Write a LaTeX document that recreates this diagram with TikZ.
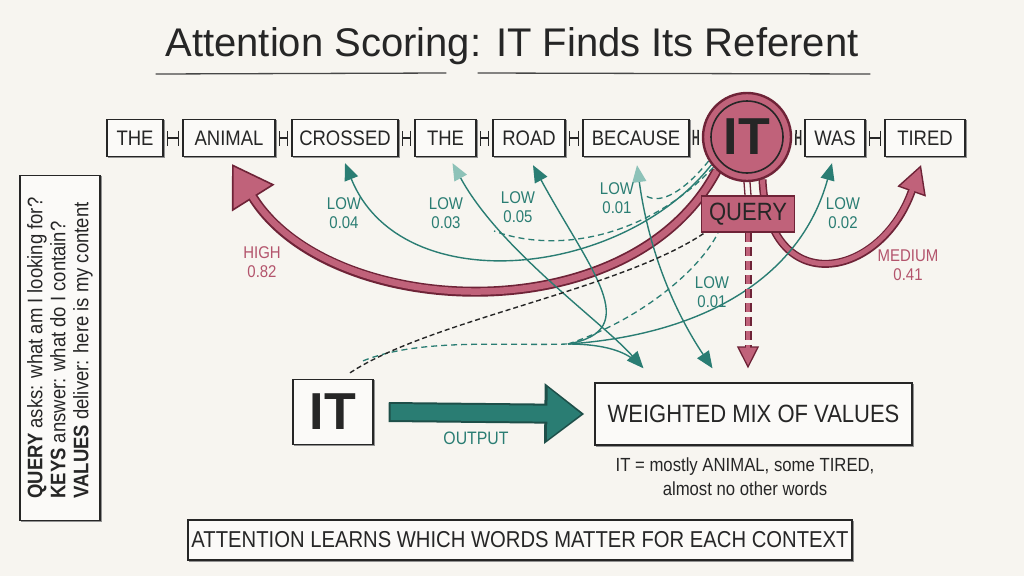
\documentclass[tikz,border=0pt]{standalone}
\usepackage{fontspec}
\setmainfont{Liberation Sans}
\newfontfamily\cond[FakeStretch=0.88]{Liberation Sans}
\usetikzlibrary{arrows.meta,calc}
\definecolor{paper}{HTML}{F7F5F0}
\definecolor{ink}{HTML}{262626}
\definecolor{pinkfill}{HTML}{C0627A}
\definecolor{pinkdark}{HTML}{6E2337}
\definecolor{pinktext}{HTML}{B3546C}
\definecolor{tealc}{HTML}{2A7D73}
\definecolor{tealdark}{HTML}{1E4F49}
\definecolor{teallight}{HTML}{8DC2B8}
\pgfdeclarelayer{back}
\pgfdeclarelayer{curves}
\pgfsetlayers{back,curves,main}
\begin{document}
\begin{tikzpicture}[x=1pt,y=-1pt,
  sketch/.style={draw=ink, line width=1.3pt, fill=paper!50!white,
    preaction={draw=ink!50, line width=0.7pt, transform canvas={shift={(1.5pt,-1.2pt)}}}},
  word/.style={sketch, minimum height=37pt, inner sep=0pt, font=\cond\fontsize{21}{24}\selectfont, text=ink},
  link/.style={draw=ink, line width=2pt, {Bar[width=15pt 0 0,line width=1.5pt 0 0]}-{Bar[width=15pt 0 0,line width=1.5pt 0 0]}, shorten <=3pt, shorten >=3pt},
  lbl/.style={font=\cond\fontsize{17}{18.5}\selectfont, align=center, text=tealc, inner sep=1pt},
  plbl/.style={lbl, text=pinktext},
  tline/.style={draw=tealc, line width=1.4pt},
  tdash/.style={draw=tealc, line width=1.3pt, dash pattern=on 6pt off 4pt},
  ttip/.tip={Triangle[length=17pt 0 0,width=14pt 0 0]},
  lttip/.tip={Triangle[length=17pt 0 0,width=14pt 0 0,color=teallight]},
]
\useasboundingbox (0,0) rectangle (1024,576);
\begin{pgfonlayer}{back}
\fill[paper] (0,0) rectangle (1024,576);
\end{pgfonlayer}

% title
\node[font=\fontsize{40}{44}\selectfont, text=ink] (title) at (512,46) {Attention Scoring: IT Finds Its Referent};
\draw[ink!85, line width=1.3pt, line cap=round] (156,74) -- (446,73);
\draw[ink!85, line width=1.3pt, line cap=round] (478,73) -- (870,74);

% words
\node[word, minimum width=56pt] (w1) at (135,138) {THE};
\node[word, minimum width=92pt] (w2) at (229,138) {ANIMAL};
\node[word, minimum width=106pt] (w3) at (345,138) {CROSSED};
\node[word, minimum width=61pt] (w4) at (445.5,138) {THE};
\node[word, minimum width=72pt] (w5) at (529,138) {ROAD};
\node[word, minimum width=106pt] (w6) at (636,138) {BECAUSE};
\node[circle, draw=pinkdark, line width=2.4pt, fill=pinkfill, minimum size=88pt, inner sep=0pt,
      font=\bfseries\fontsize{52}{52}\selectfont, text=ink] (it) at (747,137) {IT};
\draw[ink, line width=1.6pt] (it.center) circle (36pt);
\node[word, minimum width=60pt] (w7) at (835,138) {WAS};
\node[word, minimum width=80pt] (w8) at (925,138) {TIRED};
\foreach \a/\b in {w1/w2,w2/w3,w3/w4,w4/w5,w5/w6,w6/it,it/w7,w7/w8}
  \draw[link] (\a) -- (\b);

% query
\node[draw=pinkdark, line width=1.5pt, fill=pinkfill, minimum width=93pt, minimum height=36pt, inner sep=0pt,
      font=\cond\fontsize{25}{28}\selectfont, text=ink] (query) at (748,214) {QUERY};
\draw[pinkdark, line width=1.3pt] ([xshift=-3pt]it.south) -- ([xshift=-3pt]query.north);
\draw[pinkdark, line width=1.3pt] ([xshift=3pt]it.south) -- ([xshift=3pt]query.north);

% bottom nodes
\node[sketch, minimum width=80pt, minimum height=65pt, inner sep=0pt, font=\bfseries\fontsize{52}{52}\selectfont, text=ink] (itb) at (333,412) {IT};
\node[sketch, minimum width=317pt, minimum height=62pt, font=\cond\fontsize{25}{28}\selectfont, text=ink] (mix) at (753.5,414) {WEIGHTED MIX OF VALUES};
\node[font=\cond\fontsize{19}{24}\selectfont, align=center, text=ink] (note) at (745,477) {IT = mostly ANIMAL, some TIRED,\\almost no other words};
\node[lbl, font=\cond\fontsize{18}{20}\selectfont] (outlbl) at (476,438) {OUTPUT};
\node[sketch, minimum width=660pt, minimum height=40pt, font=\cond\fontsize{23}{26}\selectfont, text=ink] (take) at (520,540) {ATTENTION LEARNS WHICH WORDS MATTER FOR EACH CONTEXT};
\node[sketch, rotate=90, minimum width=345pt, minimum height=80pt, align=left, font=\cond\fontsize{21}{23}\selectfont, text=ink] (side) at (60,348)
  {\textbf{QUERY} asks: what am I looking for?\\ \textbf{KEYS} answer: what do I contain?\\ \textbf{VALUES} deliver: here is my content};

% labels
\node[plbl] (lhigh) at (262,262) {HIGH\\0.82};
\node[lbl] (l04) at (344,213) {LOW\\0.04};
\node[lbl] (l03) at (446,213) {LOW\\0.03};
\node[lbl] (l05) at (518,207) {LOW\\0.05};
\node[lbl] (l01a) at (617,198) {LOW\\0.01};
\node[lbl] (l02) at (843,213) {LOW\\0.02};
\node[lbl] (l01b) at (712,292) {LOW\\0.01};
\node[plbl] (lmed) at (908,265) {MEDIUM\\0.41};

% coordinates
\coordinate (a2) at ([xshift=3pt,yshift=-7pt]w2.south);
\coordinate (a3) at ([yshift=-6pt]w3.south);
\coordinate (a4) at ([xshift=7pt,yshift=-6pt]w4.south);
\coordinate (a5) at ([xshift=4pt,yshift=-8pt]w5.south);
\coordinate (a6) at ([xshift=1pt,yshift=-8pt]w6.south);
\coordinate (a7) at ([xshift=-3pt,yshift=-6pt]w7.south);
\coordinate (a8) at ([xshift=-4pt,yshift=-8pt]w8.south);
\coordinate (m1) at ([xshift=-110pt,yshift=14pt]mix.north);
\coordinate (m2) at ([xshift=-41pt,yshift=14pt]mix.north);
\coordinate (m3) at ($(query.south |- mix.north)+(0,-14)$);
\coordinate (merge) at (568,344);
\coordinate (s1) at ([xshift=17pt,yshift=6pt]itb.north);
\coordinate (s2) at ([xshift=30pt,yshift=18pt]itb.north);
\coordinate (d1) at (646,196);
\coordinate (d2) at (494,231);

\begin{pgfonlayer}{curves}
% big pink HIGH arrow
\draw[draw=pinkdark, line width=10pt, -{Triangle[length=40pt 0 0,width=50pt 0 0,line width=1.6pt 0 0,color=pinkdark,fill=pinkfill]}]
  (it.228) .. controls (630,335) and (330,320) .. (a2);
\draw[draw=pinkfill, line width=6.5pt, shorten >=38pt] (it.228) .. controls (630,335) and (330,320) .. (a2);
% medium pink arrow
\draw[draw=pinkdark, line width=8pt, -{Triangle[length=28pt 0 0,width=30pt 0 0,line width=1.4pt 0 0,color=pinkdark,fill=pinkfill]}]
  (it.290) .. controls (768,300) and (880,280) .. (a8);
\draw[draw=pinkfill, line width=5pt, shorten >=26pt] (it.290) .. controls (768,300) and (880,280) .. (a8);

% teal attention lines
\draw[tline, -ttip] (it.218) .. controls (620,280) and (400,300) .. (a3);
\draw[tline, lttip-ttip] (a4) .. controls (500,250) and (600,320) .. (m1);
\draw[tline, ttip-] (a5) .. controls (590,270) and (645,330) .. (merge);
\draw[tline, lttip-ttip] (a6) .. controls (650,260) and (680,320) .. (m2);
\draw[tline, -ttip] (merge) .. controls (700,335) and (800,280) .. (a7);
\draw[tline, shorten >=12pt] (merge) .. controls (605,344) and (625,352) .. (m1);
\draw[tdash] (s2) .. controls (420,338) and (500,346) .. (merge);
\draw[tdash] (merge) .. controls (640,320) and (700,270) .. ([xshift=-30pt]query.south);
\draw[draw=ink, line width=1.4pt, dash pattern=on 5pt off 3pt] (s1) .. controls (430,320) and (620,290) .. ([xshift=4pt]query.south west);
\draw[tdash] (it.212) .. controls (685,190) and (662,205) .. (d1);
\draw[tdash] (it.222) .. controls (650,235) and (560,255) .. (d2);

% pink dashed query arrow
\draw[draw=pinkdark, line width=7pt, dash pattern=on 9pt off 5pt, -{Triangle[length=22pt 0 0,width=22pt 0 0,line width=1.3pt 0 0,color=pinkdark,fill=pinkfill]}]
  (query.south) -- (m3);
\draw[draw=pinkfill, line width=4pt, dash pattern=on 9pt off 5pt, shorten >=20pt] (query.south) -- (m3);

% output arrow
\draw[draw=tealdark, line width=20pt, -{Triangle[length=40pt 0 0,width=58pt 0 0]}] ([xshift=15pt]itb.east) -- ([xshift=-10pt]mix.west);
\draw[draw=tealc, line width=16pt, -{Triangle[length=34pt 0 0,width=50pt 0 0]}] ([xshift=17pt]itb.east) -- ([xshift=-13pt]mix.west);
\end{pgfonlayer}
\end{tikzpicture}
\end{document}
